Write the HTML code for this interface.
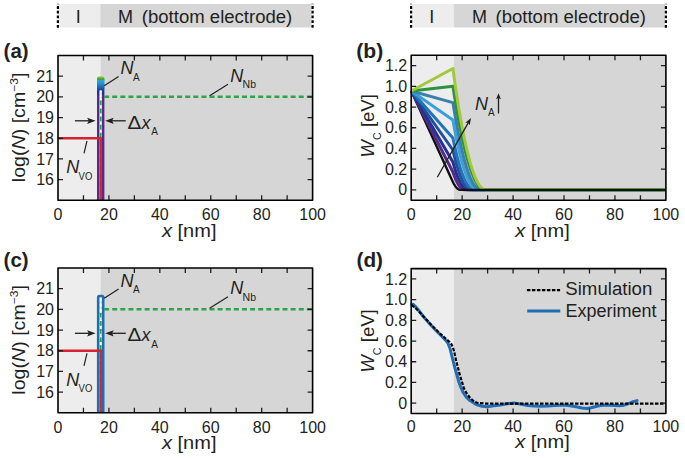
<!DOCTYPE html>
<html><head><meta charset="utf-8"><style>
html,body{margin:0;padding:0;background:#fff;}
svg{display:block;font-family:"Liberation Sans", sans-serif;}
</style></head><body>
<svg width="685" height="458" viewBox="0 0 685 458">
<rect width="685" height="458" fill="#fff"/>
<defs><linearGradient id="gspike" x1="0" y1="77" x2="0" y2="200" gradientUnits="userSpaceOnUse"><stop offset="0" stop-color="#a6cf3e"/><stop offset="0.008" stop-color="#5bb04a"/><stop offset="0.02" stop-color="#3aa047"/><stop offset="0.03" stop-color="#2aa6d9"/><stop offset="0.05" stop-color="#2596d4"/><stop offset="0.075" stop-color="#1f70b8"/><stop offset="0.1" stop-color="#1c4c9f"/><stop offset="0.13" stop-color="#1f2f88"/><stop offset="0.155" stop-color="#56298c"/><stop offset="1" stop-color="#56298c"/></linearGradient></defs>
<rect x="58.9" y="4" width="41.40" height="23.5" fill="#ededed"/>
<rect x="100.30" y="4" width="211.30" height="23.5" fill="#d6d6d6"/>
<line x1="57.90" y1="3.8" x2="57.90" y2="28.6" stroke="#000" stroke-width="2.2" stroke-dasharray="2.8 1.9" stroke-dashoffset="2.4"/>
<line x1="312.60" y1="3.8" x2="312.60" y2="28.6" stroke="#000" stroke-width="2.2" stroke-dasharray="2.8 1.9" stroke-dashoffset="2.4"/>
<rect x="412.1" y="4" width="41.70" height="23.5" fill="#ededed"/>
<rect x="453.80" y="4" width="211.10" height="23.5" fill="#d6d6d6"/>
<line x1="411.10" y1="3.8" x2="411.10" y2="28.6" stroke="#000" stroke-width="2.2" stroke-dasharray="2.8 1.9" stroke-dashoffset="2.4"/>
<line x1="665.90" y1="3.8" x2="665.90" y2="28.6" stroke="#000" stroke-width="2.2" stroke-dasharray="2.8 1.9" stroke-dashoffset="2.4"/>
<text x="78.20" y="22.60" font-size="18" text-anchor="middle" font-weight="normal" font-style="normal" fill="#231f20" >I</text>
<text x="431.80" y="22.60" font-size="18" text-anchor="middle" font-weight="normal" font-style="normal" fill="#231f20" >I</text>
<text x="118.00" y="22.60" font-size="18" text-anchor="start" font-weight="normal" font-style="normal" fill="#231f20" >M</text>
<text x="471.90" y="22.60" font-size="18" text-anchor="start" font-weight="normal" font-style="normal" fill="#231f20" >M</text>
<text x="141.80" y="22.60" font-size="18" text-anchor="start" font-weight="normal" font-style="normal" fill="#231f20" textLength="150.5" lengthAdjust="spacingAndGlyphs" >(bottom electrode)</text>
<text x="495.50" y="22.60" font-size="18" text-anchor="start" font-weight="normal" font-style="normal" fill="#231f20" textLength="150.5" lengthAdjust="spacingAndGlyphs" >(bottom electrode)</text>
<rect x="58.00" y="55.50" width="42.52" height="144.80" fill="#ededed"/>
<rect x="100.52" y="55.50" width="212.08" height="144.80" fill="#d7d6d6"/>
<path d="M98.20,200.30V78.70Q98.20,77.40 99.50,77.40H101.90Q103.20,77.40 103.20,78.70V200.30" fill="none" stroke="url(#gspike)" stroke-width="2.4"/>
<rect x="97.20" y="77.40" width="7.00" height="13.10" rx="1.5" fill="url(#gspike)"/>
<line x1="100.72" y1="90.50" x2="100.72" y2="200.30" stroke="#ffffff" stroke-width="1.5" stroke-dasharray="2.2 1.8"/>
<path d="M100.72,200.30V97.87" fill="none" stroke="#2ca447" stroke-width="1.8" stroke-dasharray="4.7 3.4" stroke-dashoffset="2"/>
<path d="M104.10,96.87H312.60" fill="none" stroke="#2ca447" stroke-width="2.5" stroke-dasharray="5 3.11"/>
<path d="M58.00,138.24H100.72V200.30" fill="none" stroke="#d7232f" stroke-width="2.5"/>
<path d="M83.46,200.30v-5M83.46,55.50v5M108.92,200.30v-5M108.92,55.50v5M134.38,200.30v-5M134.38,55.50v5M159.84,200.30v-5M159.84,55.50v5M185.30,200.30v-5M185.30,55.50v5M210.76,200.30v-5M210.76,55.50v5M236.22,200.30v-5M236.22,55.50v5M261.68,200.30v-5M261.68,55.50v5M287.14,200.30v-5M287.14,55.50v5M58.00,179.61h5M312.60,179.61h-5M58.00,158.93h5M312.60,158.93h-5M58.00,138.24h5M312.60,138.24h-5M58.00,117.56h5M312.60,117.56h-5M58.00,96.87h5M312.60,96.87h-5M58.00,76.19h5M312.60,76.19h-5" stroke="#231f20" stroke-width="1.3" fill="none"/>
<rect x="58.00" y="55.50" width="254.60" height="144.80" fill="none" stroke="#000" stroke-width="1.6" stroke-linejoin="round"/>
<path d="M118.6,76.40L104.2,85.80M228,84.30L209.6,95.80M87,140.90L84,153.30" stroke="#231f20" stroke-width="1.2" fill="none"/>
<line x1="74.90" y1="120.80" x2="90.50" y2="120.80" stroke="#231f20" stroke-width="1.3"/>
<path d="M95.60,120.80L87.10,117.70L88.80,120.80L87.10,123.90Z" fill="#231f20"/>
<line x1="125.80" y1="120.80" x2="110.30" y2="120.80" stroke="#231f20" stroke-width="1.3"/>
<path d="M105.20,120.80L113.70,123.90L112.00,120.80L113.70,117.70Z" fill="#231f20"/>
<text x="120.50" y="74.30" font-size="18" text-anchor="start" font-weight="normal" font-style="italic" fill="#231f20" >N</text>
<text x="133.10" y="80.60" font-size="10" text-anchor="start" font-weight="normal" font-style="normal" fill="#231f20" >A</text>
<text x="230.30" y="81.50" font-size="18" text-anchor="start" font-weight="normal" font-style="italic" fill="#231f20" >N</text>
<text x="242.60" y="88.30" font-size="10.5" text-anchor="start" font-weight="normal" font-style="normal" fill="#231f20" textLength="13.4" lengthAdjust="spacingAndGlyphs" >Nb</text>
<text x="66.30" y="173.00" font-size="18" text-anchor="start" font-weight="normal" font-style="italic" fill="#231f20" >N</text>
<text x="78.60" y="179.50" font-size="10" text-anchor="start" font-weight="normal" font-style="normal" fill="#231f20" textLength="13.7" lengthAdjust="spacingAndGlyphs" >VO</text>
<text x="127.40" y="128.60" font-size="18" text-anchor="start" font-weight="normal" font-style="normal" fill="#231f20" textLength="13.8" lengthAdjust="spacingAndGlyphs" >Δ</text>
<text x="141.50" y="128.60" font-size="18" text-anchor="start" font-weight="normal" font-style="italic" fill="#231f20" >x</text>
<text x="151.30" y="135.10" font-size="10" text-anchor="start" font-weight="normal" font-style="normal" fill="#231f20" >A</text>
<text x="54.00" y="185.21" font-size="16" text-anchor="end" font-weight="normal" font-style="normal" fill="#231f20" >16</text>
<text x="54.00" y="164.53" font-size="16" text-anchor="end" font-weight="normal" font-style="normal" fill="#231f20" >17</text>
<text x="54.00" y="143.84" font-size="16" text-anchor="end" font-weight="normal" font-style="normal" fill="#231f20" >18</text>
<text x="54.00" y="123.16" font-size="16" text-anchor="end" font-weight="normal" font-style="normal" fill="#231f20" >19</text>
<text x="54.00" y="102.47" font-size="16" text-anchor="end" font-weight="normal" font-style="normal" fill="#231f20" >20</text>
<text x="54.00" y="81.79" font-size="16" text-anchor="end" font-weight="normal" font-style="normal" fill="#231f20" >21</text>
<text x="58.00" y="219.60" font-size="16" text-anchor="middle" font-weight="normal" font-style="normal" fill="#231f20" >0</text>
<text x="108.92" y="219.60" font-size="16" text-anchor="middle" font-weight="normal" font-style="normal" fill="#231f20" >20</text>
<text x="159.84" y="219.60" font-size="16" text-anchor="middle" font-weight="normal" font-style="normal" fill="#231f20" >40</text>
<text x="210.76" y="219.60" font-size="16" text-anchor="middle" font-weight="normal" font-style="normal" fill="#231f20" >60</text>
<text x="261.68" y="219.60" font-size="16" text-anchor="middle" font-weight="normal" font-style="normal" fill="#231f20" >80</text>
<text x="312.60" y="219.60" font-size="16" text-anchor="middle" font-weight="normal" font-style="normal" fill="#231f20" >100</text>
<text x="162.00" y="236.80" font-size="18" text-anchor="start" font-weight="normal" font-style="normal" fill="#231f20" textLength="54.5" lengthAdjust="spacingAndGlyphs" ><tspan font-style="italic">x</tspan> [nm]</text>
<g transform="translate(25.2,127.40) rotate(-90)"><text x="-54.8" y="0" font-size="18" textLength="109.6" lengthAdjust="spacingAndGlyphs" fill="#231f20">log(<tspan font-style="italic">N</tspan>) [cm<tspan font-size="11" dy="-7">−3</tspan><tspan dy="7">]</tspan></text></g>
<text x="3.60" y="57.50" font-size="20" text-anchor="start" font-weight="bold" font-style="normal" fill="#231f20" textLength="25" lengthAdjust="spacingAndGlyphs" >(a)</text>
<rect x="411.20" y="55.30" width="42.53" height="144.90" fill="#ededed"/>
<rect x="453.73" y="55.30" width="212.17" height="144.90" fill="#d7d6d6"/>
<path d="M411.30,91.00L452.90,182.00L453.22,182.64L453.55,183.25L453.87,183.84L454.19,184.40L454.51,184.93L454.84,185.43L455.16,185.91L455.48,186.36L455.80,186.78L456.13,187.18L456.45,187.55L456.77,187.89L457.10,188.20L457.42,188.49L457.74,188.75L458.06,188.98L458.39,189.18L458.71,189.36L459.03,189.51L459.35,189.63L459.68,189.73L460.00,189.80L460.32,189.84L460.65,189.85L665.90,189.85" fill="none" stroke="#111111" stroke-width="2.4" stroke-linejoin="round"/>
<path d="M411.30,91.00L452.90,172.00L453.40,173.46L453.91,174.85L454.41,176.18L454.91,177.45L455.42,178.66L455.92,179.81L456.43,180.89L456.93,181.92L457.43,182.88L457.94,183.78L458.44,184.61L458.94,185.39L459.45,186.10L459.95,186.75L460.45,187.34L460.96,187.87L461.46,188.33L461.96,188.73L462.47,189.08L462.97,189.35L463.48,189.57L463.98,189.73L464.48,189.82L464.99,189.85L665.90,189.85" fill="none" stroke="#55298b" stroke-width="3.0" stroke-linejoin="round"/>
<path d="M411.30,91.00L452.90,162.00L453.54,164.27L454.17,166.45L454.81,168.53L455.45,170.51L456.09,172.40L456.72,174.18L457.36,175.88L458.00,177.47L458.64,178.97L459.27,180.37L459.91,181.68L460.55,182.89L461.19,184.00L461.82,185.01L462.46,185.93L463.10,186.76L463.73,187.48L464.37,188.11L465.01,188.64L465.65,189.08L466.28,189.41L466.92,189.66L467.56,189.80L468.20,189.85L665.90,189.85" fill="none" stroke="#25318a" stroke-width="3.0" stroke-linejoin="round"/>
<path d="M411.30,91.00L452.90,150.00L453.67,153.25L454.44,156.36L455.21,159.34L455.98,162.18L456.74,164.87L457.51,167.43L458.28,169.86L459.05,172.14L459.82,174.28L460.59,176.29L461.36,178.16L462.13,179.89L462.90,181.48L463.66,182.93L464.43,184.25L465.20,185.42L465.97,186.46L466.74,187.36L467.51,188.12L468.28,188.74L469.05,189.23L469.82,189.57L470.58,189.78L471.35,189.85L665.90,189.85" fill="none" stroke="#1f4f9e" stroke-width="3.0" stroke-linejoin="round"/>
<path d="M411.30,91.00L452.90,138.00L453.78,142.23L454.66,146.28L455.55,150.15L456.43,153.84L457.31,157.35L458.19,160.68L459.07,163.83L459.95,166.81L460.84,169.60L461.72,172.21L462.60,174.64L463.48,176.89L464.36,178.96L465.24,180.85L466.13,182.56L467.01,184.09L467.89,185.44L468.77,186.61L469.65,187.60L470.54,188.41L471.42,189.04L472.30,189.49L473.18,189.76L474.06,189.85L665.90,189.85" fill="none" stroke="#2373b9" stroke-width="3.0" stroke-linejoin="round"/>
<path d="M411.30,91.00L452.90,120.00L453.93,125.70L454.96,131.16L455.99,136.37L457.02,141.34L458.04,146.07L459.07,150.56L460.10,154.80L461.13,158.81L462.16,162.56L463.19,166.08L464.22,169.36L465.25,172.39L466.27,175.18L467.30,177.72L468.33,180.03L469.36,182.09L470.39,183.91L471.42,185.48L472.45,186.82L473.48,187.91L474.50,188.76L475.53,189.36L476.56,189.73L477.59,189.85L665.90,189.85" fill="none" stroke="#3aa0da" stroke-width="3.0" stroke-linejoin="round"/>
<path d="M411.30,91.00L452.90,102.60L454.05,109.72L455.21,116.54L456.36,123.05L457.51,129.26L458.67,135.17L459.82,140.77L460.98,146.07L462.13,151.07L463.28,155.77L464.44,160.16L465.59,164.25L466.74,168.04L467.90,171.52L469.05,174.70L470.21,177.58L471.36,180.16L472.51,182.43L473.67,184.40L474.82,186.06L475.97,187.43L477.13,188.49L478.28,189.24L479.44,189.70L480.59,189.85L665.90,189.85" fill="none" stroke="#3b7fae" stroke-width="3.0" stroke-linejoin="round"/>
<path d="M411.30,91.00L452.90,86.20L454.23,94.66L455.55,102.76L456.88,110.49L458.21,117.87L459.54,124.89L460.86,131.55L462.19,137.85L463.52,143.78L464.84,149.36L466.17,154.58L467.50,159.44L468.83,163.94L470.15,168.08L471.48,171.86L472.81,175.27L474.13,178.33L475.46,181.03L476.79,183.37L478.12,185.35L479.44,186.97L480.77,188.23L482.10,189.13L483.42,189.67L484.75,189.85L665.90,189.85" fill="none" stroke="#2e9144" stroke-width="3.0" stroke-linejoin="round"/>
<path d="M411.30,91.00L452.90,68.50L454.27,78.40L455.63,87.88L457.00,96.94L458.37,105.58L459.73,113.80L461.10,121.59L462.47,128.96L463.83,135.92L465.20,142.45L466.57,148.56L467.93,154.25L469.30,159.51L470.67,164.36L472.03,168.78L473.40,172.79L474.77,176.37L476.13,179.53L477.50,182.27L478.87,184.58L480.23,186.48L481.60,187.95L482.97,189.01L484.33,189.64L485.70,189.85L665.90,189.85" fill="none" stroke="#a3c93a" stroke-width="3.0" stroke-linejoin="round"/>
<path d="M461,189.85H665.90" stroke="#111111" stroke-width="2.4"/>
<path d="M436.67,200.20v-5M436.67,55.30v5M462.14,200.20v-5M462.14,55.30v5M487.61,200.20v-5M487.61,55.30v5M513.08,200.20v-5M513.08,55.30v5M538.55,200.20v-5M538.55,55.30v5M564.02,200.20v-5M564.02,55.30v5M589.49,200.20v-5M589.49,55.30v5M614.96,200.20v-5M614.96,55.30v5M640.43,200.20v-5M640.43,55.30v5M411.20,189.85h5M665.90,189.85h-5M411.20,169.15h5M665.90,169.15h-5M411.20,148.45h5M665.90,148.45h-5M411.20,127.75h5M665.90,127.75h-5M411.20,107.05h5M665.90,107.05h-5M411.20,86.35h5M665.90,86.35h-5M411.20,65.65h5M665.90,65.65h-5" stroke="#231f20" stroke-width="1.3" fill="none"/>
<rect x="411.20" y="55.30" width="254.70" height="144.90" fill="none" stroke="#000" stroke-width="1.6" stroke-linejoin="round"/>
<line x1="437.30" y1="177.20" x2="468.92" y2="121.65" stroke="#231f20" stroke-width="1.3"/>
<path d="M471.00,118.00L465.36,122.85L468.23,122.87L469.71,125.32Z" fill="#231f20"/>
<line x1="498.50" y1="113.50" x2="498.50" y2="96.90" stroke="#231f20" stroke-width="1.3"/>
<path d="M498.50,93.30L496.10,99.30L498.50,98.10L500.90,99.30Z" fill="#231f20"/>
<text x="475.00" y="109.70" font-size="18" text-anchor="start" font-weight="normal" font-style="italic" fill="#231f20" >N</text>
<text x="488.00" y="116.20" font-size="10" text-anchor="start" font-weight="normal" font-style="normal" fill="#231f20" >A</text>
<text x="407.20" y="195.45" font-size="16" text-anchor="end" font-weight="normal" font-style="normal" fill="#231f20" >0</text>
<text x="407.20" y="174.75" font-size="16" text-anchor="end" font-weight="normal" font-style="normal" fill="#231f20" >0.2</text>
<text x="407.20" y="154.05" font-size="16" text-anchor="end" font-weight="normal" font-style="normal" fill="#231f20" >0.4</text>
<text x="407.20" y="133.35" font-size="16" text-anchor="end" font-weight="normal" font-style="normal" fill="#231f20" >0.6</text>
<text x="407.20" y="112.65" font-size="16" text-anchor="end" font-weight="normal" font-style="normal" fill="#231f20" >0.8</text>
<text x="407.20" y="91.95" font-size="16" text-anchor="end" font-weight="normal" font-style="normal" fill="#231f20" >1.0</text>
<text x="407.20" y="71.25" font-size="16" text-anchor="end" font-weight="normal" font-style="normal" fill="#231f20" >1.2</text>
<text x="411.20" y="219.60" font-size="16" text-anchor="middle" font-weight="normal" font-style="normal" fill="#231f20" >0</text>
<text x="462.14" y="219.60" font-size="16" text-anchor="middle" font-weight="normal" font-style="normal" fill="#231f20" >20</text>
<text x="513.08" y="219.60" font-size="16" text-anchor="middle" font-weight="normal" font-style="normal" fill="#231f20" >40</text>
<text x="564.02" y="219.60" font-size="16" text-anchor="middle" font-weight="normal" font-style="normal" fill="#231f20" >60</text>
<text x="614.96" y="219.60" font-size="16" text-anchor="middle" font-weight="normal" font-style="normal" fill="#231f20" >80</text>
<text x="665.90" y="219.60" font-size="16" text-anchor="middle" font-weight="normal" font-style="normal" fill="#231f20" >100</text>
<text x="515.20" y="236.80" font-size="18" text-anchor="start" font-weight="normal" font-style="normal" fill="#231f20" textLength="54.5" lengthAdjust="spacingAndGlyphs" ><tspan font-style="italic">x</tspan> [nm]</text>
<g transform="translate(373.6,125.8) rotate(-90)"><text x="-31.6" y="0" font-size="18" textLength="63.2" lengthAdjust="spacingAndGlyphs" fill="#231f20"><tspan font-style="italic">W</tspan><tspan font-size="10.5" dy="7">C</tspan><tspan dy="-7"> [eV]</tspan></text></g>
<text x="356.20" y="57.50" font-size="20" text-anchor="start" font-weight="bold" font-style="normal" fill="#231f20" textLength="27" lengthAdjust="spacingAndGlyphs" >(b)</text>
<rect x="58.00" y="268.00" width="42.52" height="144.80" fill="#ededed"/>
<rect x="100.52" y="268.00" width="212.08" height="144.80" fill="#d7d6d6"/>
<path d="M98.20,412.80V297.30Q98.20,296.00 99.50,296.00H101.90Q103.20,296.00 103.20,297.30V412.80" fill="none" stroke="#1f6eb5" stroke-width="2.6"/>
<line x1="100.72" y1="298.00" x2="100.72" y2="412.80" stroke="#ffffff" stroke-width="1.8" stroke-dasharray="3 2.5"/>
<path d="M100.72,412.80V310.37" fill="none" stroke="#2ca447" stroke-width="1.8" stroke-dasharray="4.7 3.4" stroke-dashoffset="2"/>
<path d="M104.10,309.37H312.60" fill="none" stroke="#2ca447" stroke-width="2.5" stroke-dasharray="5 3.11"/>
<path d="M58.00,350.74H100.72V412.80" fill="none" stroke="#d7232f" stroke-width="2.5"/>
<path d="M83.46,412.80v-5M83.46,268.00v5M108.92,412.80v-5M108.92,268.00v5M134.38,412.80v-5M134.38,268.00v5M159.84,412.80v-5M159.84,268.00v5M185.30,412.80v-5M185.30,268.00v5M210.76,412.80v-5M210.76,268.00v5M236.22,412.80v-5M236.22,268.00v5M261.68,412.80v-5M261.68,268.00v5M287.14,412.80v-5M287.14,268.00v5M58.00,392.11h5M312.60,392.11h-5M58.00,371.43h5M312.60,371.43h-5M58.00,350.74h5M312.60,350.74h-5M58.00,330.06h5M312.60,330.06h-5M58.00,309.37h5M312.60,309.37h-5M58.00,288.69h5M312.60,288.69h-5" stroke="#231f20" stroke-width="1.3" fill="none"/>
<rect x="58.00" y="268.00" width="254.60" height="144.80" fill="none" stroke="#000" stroke-width="1.6" stroke-linejoin="round"/>
<path d="M118.6,288.90L104.2,298.30M228,296.80L209.6,308.30M87,353.40L84,365.80" stroke="#231f20" stroke-width="1.2" fill="none"/>
<line x1="74.90" y1="333.30" x2="90.50" y2="333.30" stroke="#231f20" stroke-width="1.3"/>
<path d="M95.60,333.30L87.10,330.20L88.80,333.30L87.10,336.40Z" fill="#231f20"/>
<line x1="125.80" y1="333.30" x2="110.30" y2="333.30" stroke="#231f20" stroke-width="1.3"/>
<path d="M105.20,333.30L113.70,336.40L112.00,333.30L113.70,330.20Z" fill="#231f20"/>
<text x="120.50" y="286.80" font-size="18" text-anchor="start" font-weight="normal" font-style="italic" fill="#231f20" >N</text>
<text x="133.10" y="293.10" font-size="10" text-anchor="start" font-weight="normal" font-style="normal" fill="#231f20" >A</text>
<text x="230.30" y="294.00" font-size="18" text-anchor="start" font-weight="normal" font-style="italic" fill="#231f20" >N</text>
<text x="242.60" y="300.80" font-size="10.5" text-anchor="start" font-weight="normal" font-style="normal" fill="#231f20" textLength="13.4" lengthAdjust="spacingAndGlyphs" >Nb</text>
<text x="66.30" y="385.50" font-size="18" text-anchor="start" font-weight="normal" font-style="italic" fill="#231f20" >N</text>
<text x="78.60" y="392.00" font-size="10" text-anchor="start" font-weight="normal" font-style="normal" fill="#231f20" textLength="13.7" lengthAdjust="spacingAndGlyphs" >VO</text>
<text x="127.40" y="341.10" font-size="18" text-anchor="start" font-weight="normal" font-style="normal" fill="#231f20" textLength="13.8" lengthAdjust="spacingAndGlyphs" >Δ</text>
<text x="141.50" y="341.10" font-size="18" text-anchor="start" font-weight="normal" font-style="italic" fill="#231f20" >x</text>
<text x="151.30" y="347.60" font-size="10" text-anchor="start" font-weight="normal" font-style="normal" fill="#231f20" >A</text>
<text x="54.00" y="397.71" font-size="16" text-anchor="end" font-weight="normal" font-style="normal" fill="#231f20" >16</text>
<text x="54.00" y="377.03" font-size="16" text-anchor="end" font-weight="normal" font-style="normal" fill="#231f20" >17</text>
<text x="54.00" y="356.34" font-size="16" text-anchor="end" font-weight="normal" font-style="normal" fill="#231f20" >18</text>
<text x="54.00" y="335.66" font-size="16" text-anchor="end" font-weight="normal" font-style="normal" fill="#231f20" >19</text>
<text x="54.00" y="314.97" font-size="16" text-anchor="end" font-weight="normal" font-style="normal" fill="#231f20" >20</text>
<text x="54.00" y="294.29" font-size="16" text-anchor="end" font-weight="normal" font-style="normal" fill="#231f20" >21</text>
<text x="58.00" y="433.10" font-size="16" text-anchor="middle" font-weight="normal" font-style="normal" fill="#231f20" >0</text>
<text x="108.92" y="433.10" font-size="16" text-anchor="middle" font-weight="normal" font-style="normal" fill="#231f20" >20</text>
<text x="159.84" y="433.10" font-size="16" text-anchor="middle" font-weight="normal" font-style="normal" fill="#231f20" >40</text>
<text x="210.76" y="433.10" font-size="16" text-anchor="middle" font-weight="normal" font-style="normal" fill="#231f20" >60</text>
<text x="261.68" y="433.10" font-size="16" text-anchor="middle" font-weight="normal" font-style="normal" fill="#231f20" >80</text>
<text x="312.60" y="433.10" font-size="16" text-anchor="middle" font-weight="normal" font-style="normal" fill="#231f20" >100</text>
<text x="162.00" y="449.30" font-size="18" text-anchor="start" font-weight="normal" font-style="normal" fill="#231f20" textLength="54.5" lengthAdjust="spacingAndGlyphs" ><tspan font-style="italic">x</tspan> [nm]</text>
<g transform="translate(25.2,339.90) rotate(-90)"><text x="-54.8" y="0" font-size="18" textLength="109.6" lengthAdjust="spacingAndGlyphs" fill="#231f20">log(<tspan font-style="italic">N</tspan>) [cm<tspan font-size="11" dy="-7">−3</tspan><tspan dy="7">]</tspan></text></g>
<text x="3.60" y="267.30" font-size="20" text-anchor="start" font-weight="bold" font-style="normal" fill="#231f20" textLength="25" lengthAdjust="spacingAndGlyphs" >(c)</text>
<rect x="411.20" y="268.60" width="42.53" height="144.90" fill="#ededed"/>
<rect x="453.73" y="268.60" width="212.17" height="144.90" fill="#d7d6d6"/>
<path d="M411.50,304.20L413.00,304.20L415.00,306.00L418.00,309.50L423.30,316.50L429.40,323.50L435.00,329.50L440.00,334.50L443.70,338.30L446.30,341.00L448.30,344.00L450.00,348.50L451.60,355.00L453.40,362.00L455.10,368.70L456.90,375.00L458.60,380.90L460.50,386.50L463.00,392.20L466.00,396.80L470.00,400.60L476.20,404.60L482.00,406.30L487.00,406.80L494.00,405.80L500.50,404.90L507.00,403.80L514.00,403.00L520.00,404.00L527.60,405.40L534.00,406.00L541.00,406.20L548.00,405.90L554.60,405.40L564.00,404.90L570.00,405.70L576.00,406.80L582.00,407.90L587.00,408.40L591.00,407.80L595.00,406.80L600.00,405.60L606.00,404.90L612.00,405.20L619.50,405.70L624.00,405.20L627.60,404.00L631.00,402.50L634.00,401.40L637.00,400.60" fill="none" stroke="#1f6eb5" stroke-width="3" stroke-linejoin="round" stroke-linecap="round"/>
<path d="M411.50,305.00L415.00,307.50L420.00,312.50L425.00,318.00L430.00,323.50L435.00,328.50L440.00,333.50L445.00,338.00L449.00,341.50L451.30,344.00L452.60,346.50L454.00,351.00L456.00,360.00L459.50,373.90L463.80,387.90L467.00,394.00L470.00,397.80L474.30,401.70L478.00,403.00L485.00,403.60L665.90,403.70" fill="none" stroke="#000" stroke-width="2.2" stroke-dasharray="3.5 1.5" stroke-linejoin="round"/>
<path d="M436.67,413.50v-5M436.67,268.60v5M462.14,413.50v-5M462.14,268.60v5M487.61,413.50v-5M487.61,268.60v5M513.08,413.50v-5M513.08,268.60v5M538.55,413.50v-5M538.55,268.60v5M564.02,413.50v-5M564.02,268.60v5M589.49,413.50v-5M589.49,268.60v5M614.96,413.50v-5M614.96,268.60v5M640.43,413.50v-5M640.43,268.60v5M411.20,403.15h5M665.90,403.15h-5M411.20,382.45h5M665.90,382.45h-5M411.20,361.75h5M665.90,361.75h-5M411.20,341.05h5M665.90,341.05h-5M411.20,320.35h5M665.90,320.35h-5M411.20,299.65h5M665.90,299.65h-5M411.20,278.95h5M665.90,278.95h-5" stroke="#231f20" stroke-width="1.3" fill="none"/>
<rect x="411.20" y="268.60" width="254.70" height="144.90" fill="none" stroke="#000" stroke-width="1.6" stroke-linejoin="round"/>
<line x1="526.9" y1="290.1" x2="560.1" y2="290.1" stroke="#000" stroke-width="2.2" stroke-dasharray="3.5 1.5"/>
<line x1="527.2" y1="311.0" x2="560.3" y2="311.0" stroke="#1f6eb5" stroke-width="3"/>
<text x="565.30" y="294.90" font-size="18" text-anchor="start" font-weight="normal" font-style="normal" fill="#231f20" textLength="87" lengthAdjust="spacingAndGlyphs" >Simulation</text>
<text x="565.50" y="316.60" font-size="18" text-anchor="start" font-weight="normal" font-style="normal" fill="#231f20" textLength="91" lengthAdjust="spacingAndGlyphs" >Experiment</text>
<text x="407.20" y="408.75" font-size="16" text-anchor="end" font-weight="normal" font-style="normal" fill="#231f20" >0</text>
<text x="407.20" y="388.05" font-size="16" text-anchor="end" font-weight="normal" font-style="normal" fill="#231f20" >0.2</text>
<text x="407.20" y="367.35" font-size="16" text-anchor="end" font-weight="normal" font-style="normal" fill="#231f20" >0.4</text>
<text x="407.20" y="346.65" font-size="16" text-anchor="end" font-weight="normal" font-style="normal" fill="#231f20" >0.6</text>
<text x="407.20" y="325.95" font-size="16" text-anchor="end" font-weight="normal" font-style="normal" fill="#231f20" >0.8</text>
<text x="407.20" y="305.25" font-size="16" text-anchor="end" font-weight="normal" font-style="normal" fill="#231f20" >1.0</text>
<text x="407.20" y="284.55" font-size="16" text-anchor="end" font-weight="normal" font-style="normal" fill="#231f20" >1.2</text>
<text x="411.20" y="432.10" font-size="16" text-anchor="middle" font-weight="normal" font-style="normal" fill="#231f20" >0</text>
<text x="462.14" y="432.10" font-size="16" text-anchor="middle" font-weight="normal" font-style="normal" fill="#231f20" >20</text>
<text x="513.08" y="432.10" font-size="16" text-anchor="middle" font-weight="normal" font-style="normal" fill="#231f20" >40</text>
<text x="564.02" y="432.10" font-size="16" text-anchor="middle" font-weight="normal" font-style="normal" fill="#231f20" >60</text>
<text x="614.96" y="432.10" font-size="16" text-anchor="middle" font-weight="normal" font-style="normal" fill="#231f20" >80</text>
<text x="665.90" y="432.10" font-size="16" text-anchor="middle" font-weight="normal" font-style="normal" fill="#231f20" >100</text>
<text x="515.20" y="448.30" font-size="18" text-anchor="start" font-weight="normal" font-style="normal" fill="#231f20" textLength="54.5" lengthAdjust="spacingAndGlyphs" ><tspan font-style="italic">x</tspan> [nm]</text>
<g transform="translate(373.6,341.00) rotate(-90)"><text x="-31.6" y="0" font-size="18" textLength="63.2" lengthAdjust="spacingAndGlyphs" fill="#231f20"><tspan font-style="italic">W</tspan><tspan font-size="10.5" dy="7">C</tspan><tspan dy="-7"> [eV]</tspan></text></g>
<text x="356.50" y="267.20" font-size="20" text-anchor="start" font-weight="bold" font-style="normal" fill="#231f20" textLength="26.5" lengthAdjust="spacingAndGlyphs" >(d)</text>
</svg>
</body></html>
